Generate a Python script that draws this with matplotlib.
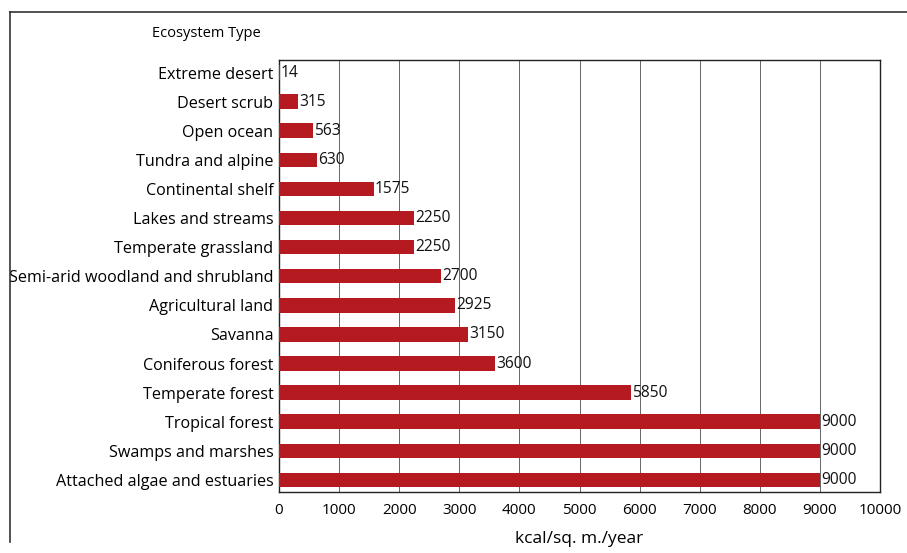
import matplotlib.pyplot as plt
from matplotlib.lines import Line2D

ecosystems = ["Extreme desert", "Desert scrub", "Open ocean", "Tundra and alpine",
              "Continental shelf", "Lakes and streams", "Temperate grassland",
              "Semi-arid woodland and shrubland", "Agricultural land", "Savanna",
              "Coniferous forest", "Temperate forest", "Tropical forest",
              "Swamps and marshes", "Attached algae and estuaries"]
productivity = [14, 315, 563, 630, 1575, 2250, 2250, 2700, 2925, 3150,
                3600, 5850, 9000, 9000, 9000]
xticks = [0, 1000, 2000, 3000, 4000, 5000, 6000, 7000, 8000, 9000, 10000]

plt.rcParams['font.family'] = ['Open Sans', 'DejaVu Sans']

fig = plt.figure(figsize=(9.07, 5.53), dpi=100)
ax = fig.add_axes([0.3076, 0.110, 0.6627, 0.781])

pos = list(range(len(ecosystems)))
ax.barh(pos, productivity, height=0.5, color='#b51a20', zorder=3)
for p, v in zip(pos, productivity):
    ax.text(v + 20, p, str(v), va='center', ha='left', fontsize=11.2, color='#111111', zorder=4)

ax.set_yticks(pos)
ax.set_yticklabels(ecosystems, fontsize=11.6)
ax.set_ylim(14.42, -0.42)
ax.set_xlim(0, 10000)
ax.set_xticks(xticks)
ax.set_xticklabels([str(t) for t in xticks], fontsize=11)
ax.tick_params(length=0, pad=8)
ax.tick_params(axis='y', pad=4)
ax.grid(axis='x', color='#666666', linewidth=0.7, zorder=0)
for s in ax.spines.values():
    s.set_color('#222222')
    s.set_linewidth(1.0)
ax.set_xlabel("kcal/sq. m./year", fontsize=12.5, labelpad=9)

fig.text(0.228, 0.94, "Ecosystem Type", ha='center', va='center', fontsize=10.5)

# outer frame lines
fig.add_artist(Line2D([0.011, 1.0], [0.978, 0.978], color='#333333', linewidth=1.2))
fig.add_artist(Line2D([0.011, 0.011], [0.978, 0.02], color='#333333', linewidth=1.2))

fig.savefig('out.png', dpi=100, facecolor='white')
